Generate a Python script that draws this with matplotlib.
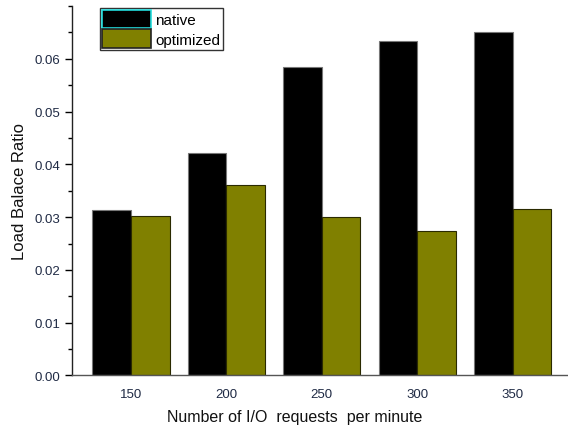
import matplotlib
matplotlib.use("Agg")
import matplotlib.pyplot as plt
from matplotlib.patches import Patch
from matplotlib.ticker import MultipleLocator

plt.rcParams['font.family'] = ['Liberation Sans', 'DejaVu Sans']

categories = [150, 200, 250, 300, 350]
native = [0.0313, 0.0421, 0.0584, 0.0633, 0.0650]
optimized = [0.0303, 0.0361, 0.0300, 0.0273, 0.0316]
series_names = ['native', 'optimized']

fig = plt.figure(figsize=(5.68, 4.27), dpi=100)
ax = fig.add_axes([0.1262, 0.1183, 0.8738, 0.8653])

w = 20.2
ax.bar([c - w / 2 for c in categories], native, width=w, color='black',
       edgecolor='#777777', linewidth=0.8)
ax.bar([c + w / 2 for c in categories], optimized, width=w, color='#808000',
       edgecolor='#2a2a00', linewidth=0.8)

ax.set_xlim(118.9, 379)
ax.set_xticks(categories)
ax.set_xticklabels([str(c) for c in categories])
ax.yaxis.set_major_locator(MultipleLocator(0.01))
ax.yaxis.set_minor_locator(MultipleLocator(0.005))
ax.set_ylim(0, 0.07)
ax.set_yticks([0, 0.01, 0.02, 0.03, 0.04, 0.05, 0.06])
ax.set_yticklabels(['0.00', '0.01', '0.02', '0.03', '0.04', '0.05', '0.06'])
ax.set_ylim(0, 0.07)

for s in ['top', 'right']:
    ax.spines[s].set_visible(False)
ax.spines['left'].set_color('#222222')
ax.spines['bottom'].set_color('#555555')
ax.spines['left'].set_linewidth(1.0)
ax.spines['bottom'].set_linewidth(1.0)

ax.tick_params(axis='x', length=0, pad=9, labelsize=9.5, labelcolor='#1f2a44')
ax.tick_params(axis='y', which='major', length=5, width=1, direction='out',
               labelsize=9.5, labelcolor='#1f2a44', pad=3)
ax.tick_params(axis='y', which='minor', length=3, width=1, direction='out')

ax.set_ylabel('Load Balace Ratio', fontsize=12, color='#111111', va='center')
ax.yaxis.set_label_coords((20 - 71.7) / 496.3, 0.5)
ax.set_xlabel('Number of I/O  requests  per minute', fontsize=11.5,
              color='#111111', va='center')
ax.xaxis.set_label_coords((295 - 71.7) / 496.3, -(418 - 376.5) / 369.5)

handles = [Patch(facecolor='black', edgecolor='#22dddd', linewidth=1.2),
           Patch(facecolor='#808000', edgecolor='#222222', linewidth=1.2)]
leg = ax.legend(handles, series_names, loc='upper left',
                bbox_to_anchor=(0.053, 1.0), fontsize=11, frameon=True,
                fancybox=False, edgecolor='#333333', framealpha=1,
                handlelength=3.2, handleheight=1.5, borderpad=0.15,
                labelspacing=0.05, handletextpad=0.3, borderaxespad=0.1)
leg.get_frame().set_linewidth(1.0)

fig.savefig('out.png', dpi=100)
